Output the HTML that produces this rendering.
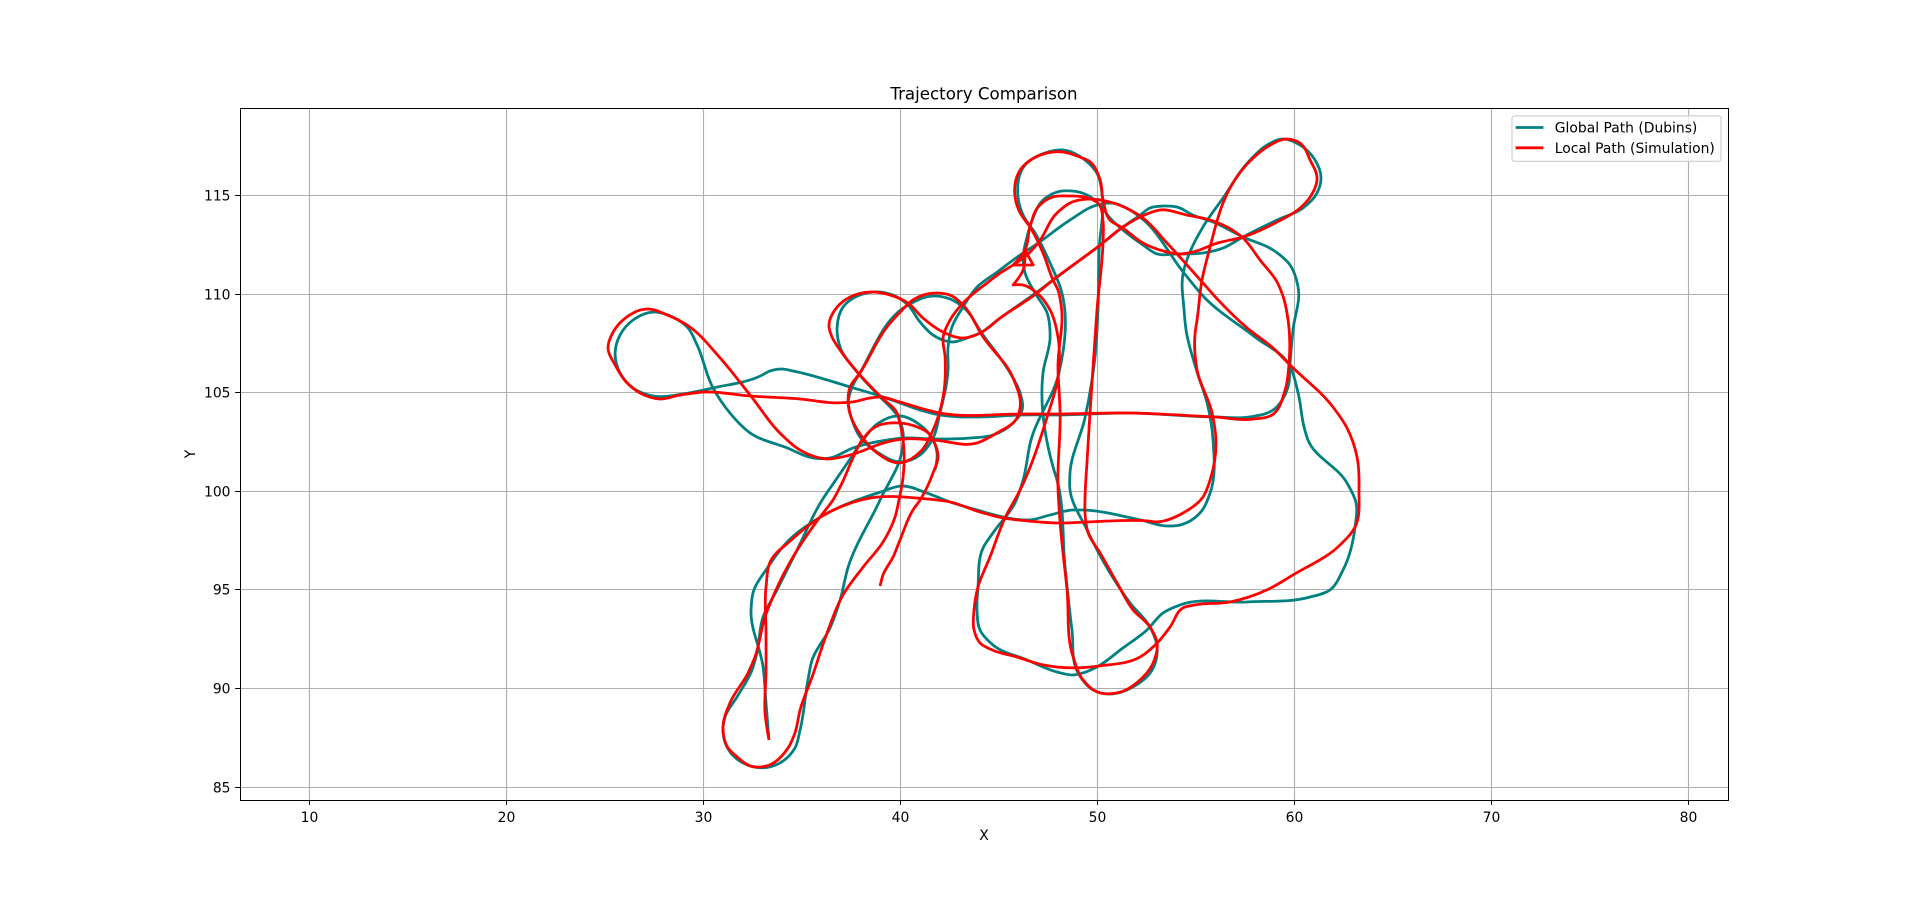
<!DOCTYPE html>
<html lang="en">
<head>
<meta charset="utf-8">
<title>Trajectory Comparison</title>
<style>
html,body{margin:0;padding:0;background:#fff;width:1920px;height:899px;overflow:hidden}
svg{display:block;font-family:"DejaVu Sans","Liberation Sans",sans-serif;fill:#000}
</style>
</head>
<body>
<svg id="chart" xmlns="http://www.w3.org/2000/svg" width="1920" height="899" viewBox="0 0 1920 899">
  <rect x="0" y="0" width="1920" height="899" fill="#fff"/>
  <defs><clipPath id="axes-clip"><rect x="240" y="108" width="1488" height="692"/></clipPath></defs>
  <rect x="240" y="108" width="1488" height="692" fill="#fff"/>
  <g id="grid"></g>
  <g clip-path="url(#axes-clip)">
    <path id="global-path" fill="none" stroke="#008080" stroke-width="2.78" stroke-linejoin="round" stroke-linecap="butt"/>
    <path id="local-path" fill="none" stroke="#ff0000" stroke-width="2.78" stroke-linejoin="round" stroke-linecap="butt"/>
  </g>
  <g id="ticks"></g>
  <rect x="240.5" y="108.5" width="1488" height="692" fill="none" stroke="#000" stroke-width="1"/>
  <text x="984" y="99.6" font-size="16.67" text-anchor="middle">Trajectory Comparison</text>
  <text x="984" y="840" font-size="13.89" text-anchor="middle">X</text>
  <text transform="translate(195,454) rotate(-90)" font-size="13.89" text-anchor="middle">Y</text>
  <g>
    <rect x="1512" y="115.8" width="209" height="45.5" rx="2.8" ry="2.8" fill="#fff" fill-opacity="0.8" stroke="#cccccc" stroke-width="1.11"/>
    <line x1="1515.6" x2="1543.4" y1="127.5" y2="127.5" stroke="#008080" stroke-width="2.78"/>
    <text x="1554.8" y="132.4" font-size="13.89">Global Path (Dubins)</text>
    <line x1="1515.6" x2="1543.4" y1="147.8" y2="147.8" stroke="#ff0000" stroke-width="2.78"/>
    <text x="1554.8" y="152.8" font-size="13.89">Local Path (Simulation)</text>
  </g>
</svg>
<script>
var xTickValues = [10,20,30,40,50,60,70,80];
var yTickValues = [85,90,95,100,105,110,115];

var localX = [38.96,39.11,39.62,39.97,40.63,40.99,41.65,41.90,41.65,41.40,40.84,39.97,38.71,38.05,37.54,37.03,36.57,35.91,34.54,33.63,33.12,32.61,32.26,31.34,30.99,31.24,31.70,32.36,33.22,34.29,34.64,34.90,35.51,36.27,37.08,38.10,39.11,39.72,39.92,40.13,40.13,39.97,39.82,39.06,37.94,36.93,36.52,36.37,36.78,37.44,38.45,39.47,40.38,41.14,42.16,43.17,44.03,45.05,46.93,47.74,50.13,51.29,52.26,53.17,54.54,55.71,56.57,57.38,58.25,59.11,59.47,59.67,59.72,59.52,58.86,57.89,55.86,51.55,48.10,46.07,42.00,40.99,39.97,38.96,38.45,37.59,36.78,34.90,32.36,29.97,28.81,27.79,26.78,26.12,25.51,25.15,25.41,25.91,27.18,28.15,29.16,30.84,32.36,33.98,34.90,36.27,37.44,39.31,40.13,41.65,43.88,44.90,45.91,46.07,45.71,44.19,43.17,42.61,41.85,40.63,40.08,39.31,37.94,37.44,37.39,38.05,38.81,39.97,40.99,41.65,42.16,42.26,42.16,42.51,43.17,44.39,45.05,45.71,46.42,46.98,47.94,48.70,49.47,50.63,51.65,52.31,53.53,55.35,56.12,57.59,58.91,59.77,61.95,62.66,63.17,63.27,63.07,62.31,59.92,58.60,56.72,54.95,54.34,53.68,53.07,52.16,50.13,48.96,47.23,45.91,44.64,44.03,43.73,43.73,43.93,44.54,45.30,46.07,47.44,47.99,47.99,47.59,46.93,46.22,45.71,46.22,46.32,46.73,45.71,46.32,46.57,46.98,47.59,48.60,49.52,50.02,50.28,50.28,49.97,49.77,49.47,49.36,49.36,49.52,50.13,50.99,51.80,52.66,53.02,52.82,52.16,50.99,49.97,49.26,48.76,48.45,48.10,47.99,48.10,47.99,48.15,47.99,47.74,47.23,46.57,46.07,45.81,46.07,47.08,48.25,49.11,49.57,50.13,50.28,50.63,51.29,52.31,53.17,54.19,54.85,56.07,57.38,59.11,60.28,60.79,61.14,60.79,60.28,59.62,58.76,57.89,56.72,56.37,55.71,55.30,55.05,54.95,55.05,55.81,56.01,55.71,55.35,54.34,53.02,52.51,49.62,48.10,46.42,45.20,44.03,42.51,41.34,38.20,36.12,34.34,33.43,33.17,33.17,33.17,33.12,33.32];
var localY = [95.20,95.76,96.67,97.53,99.05,99.56,100.93,101.74,102.60,102.96,103.26,103.46,103.26,102.60,101.59,100.42,99.56,98.70,96.67,94.90,93.63,91.60,90.79,89.27,88.06,86.99,86.54,86.08,86.08,86.99,87.75,88.92,90.59,92.82,94.75,96.16,97.43,98.70,99.56,100.73,102.60,103.46,103.97,104.73,105.89,107.16,107.82,108.33,109.34,109.85,110.10,109.95,109.54,108.78,108.07,107.77,108.02,108.78,110.05,110.71,112.48,113.40,113.95,114.26,114.00,113.75,113.40,112.84,111.72,110.61,109.70,108.68,106.50,105.13,103.87,103.66,103.77,103.97,103.92,103.92,103.97,104.22,104.53,104.78,104.73,104.53,104.48,104.68,104.83,105.03,104.88,104.68,104.98,105.49,106.40,107.26,108.07,108.68,109.24,108.94,108.43,106.76,104.88,102.85,102.09,101.64,101.84,102.50,102.65,102.60,102.45,102.96,103.72,104.27,105.74,107.82,109.44,109.90,110.05,109.70,109.19,108.33,106.00,105.29,104.12,102.75,101.94,101.44,101.99,103.11,104.78,106.81,107.82,108.68,109.54,110.56,111.06,111.47,111.98,112.58,114.11,114.66,114.81,114.66,114.26,113.85,112.58,110.56,109.70,108.28,107.26,106.40,104.27,103.21,101.74,100.07,98.19,97.28,95.76,95.00,94.39,94.24,94.09,93.12,92.36,91.60,91.15,91.05,91.20,91.60,91.96,92.31,92.97,93.99,95.15,96.67,98.65,100.07,103.77,105.79,107.82,109.19,110.05,110.46,110.46,111.22,112.23,111.47,111.47,112.23,113.40,114.41,114.87,114.97,114.87,114.61,113.65,112.74,109.19,106.30,101.59,99.56,98.90,97.89,96.87,95.35,93.99,93.12,92.31,91.30,90.44,89.78,89.83,90.44,91.60,95.00,98.39,100.22,103.97,106.30,109.44,110.20,110.71,112.08,113.40,114.11,114.92,116.28,117.04,117.20,116.94,116.74,115.78,114.76,113.75,113.34,112.58,112.23,112.03,112.13,112.58,112.89,113.65,114.36,114.92,115.88,116.79,117.65,117.86,117.55,116.89,115.37,114.61,112.38,110.71,108.68,108.02,106.15,103.97,102.45,100.57,99.71,98.90,98.45,98.50,98.45,98.39,98.50,98.65,98.95,99.46,99.61,99.61,98.80,97.43,96.52,95.15,92.82,90.79,88.77,87.40];

var globalX = [41.75,41.85,41.60,40.99,39.97,38.81,38.10,37.34,36.57,36.02,34.75,33.73,33.02,32.71,32.46,31.70,31.09,30.99,31.34,32.00,32.97,33.88,34.64,34.90,35.30,35.51,36.42,36.93,37.34,38.96,40.08,40.13,39.87,38.96,37.79,36.93,36.78,37.08,37.94,38.96,39.82,40.38,40.99,41.65,42.66,43.37,44.03,45.05,46.93,47.74,50.13,51.29,52.16,52.66,53.32,54.03,54.85,55.86,57.38,58.91,59.77,60.18,59.92,59.77,59.67,58.91,57.74,55.86,51.55,48.10,46.07,44.19,42.00,40.99,39.97,38.96,37.44,34.54,33.98,33.38,32.87,30.48,28.96,27.44,26.42,25.76,25.51,25.76,26.42,27.44,28.45,29.21,29.67,30.48,31.34,32.36,34.24,35.56,36.42,37.59,39.31,40.13,41.65,43.53,44.69,45.71,46.17,46.07,45.56,44.19,43.17,42.51,41.65,40.38,37.94,37.54,37.34,37.54,37.94,38.81,39.97,40.99,41.60,42.00,42.41,42.41,42.61,43.17,43.88,44.90,46.07,46.98,48.60,49.97,50.79,51.65,52.16,54.39,55.40,57.99,59.67,60.18,60.48,60.68,62.66,63.12,63.07,62.46,61.80,60.79,57.59,54.19,53.32,52.51,51.29,49.97,49.26,48.76,47.94,46.42,44.69,44.03,43.88,43.93,44.19,44.69,45.81,46.22,46.62,48.04,48.15,47.59,46.83,46.22,45.96,46.32,47.34,48.25,49.36,50.02,50.23,50.08,50.02,49.87,49.36,48.60,48.60,49.47,50.63,51.65,52.66,53.02,52.77,51.80,50.79,49.77,49.01,48.70,48.35,47.94,47.74,47.23,47.59,47.44,46.83,46.32,46.22,46.42,46.68,47.23,47.94,48.70,49.47,50.13,50.63,51.29,52.31,53.02,54.03,55.35,56.37,57.38,59.11,60.43,61.14,61.34,61.04,60.28,59.41,58.60,57.74,56.37,55.35,54.69,54.34,54.39,54.49,55.05,55.56,55.86,55.71,55.20,54.19,53.53,52.16,49.26,48.70,47.59,46.57,45.20,43.88,42.51,41.34,40.03,39.01,36.12,34.34,33.27,32.51,32.41,33.02,33.17,33.32];
var globalY = [101.08,101.94,102.70,103.36,103.82,103.41,102.60,101.49,100.37,99.56,97.03,95.00,93.63,91.81,90.94,89.58,88.56,87.75,86.79,86.23,85.98,86.23,86.99,87.90,90.44,91.45,93.07,94.49,96.16,99.56,102.09,102.96,103.77,104.78,106.05,107.31,108.33,109.34,109.95,110.10,109.85,109.44,108.58,107.92,107.57,107.77,108.02,108.78,110.10,110.71,112.48,113.40,114.00,114.36,114.46,114.41,114.00,113.65,112.89,112.23,111.47,110.35,108.18,106.50,105.29,104.12,103.77,103.77,103.97,103.87,103.87,103.77,103.87,104.12,104.48,104.83,105.29,106.10,106.20,106.10,105.84,105.24,104.93,104.83,105.24,106.00,107.01,107.92,108.68,109.09,108.83,108.28,107.42,105.24,103.97,102.96,102.20,101.69,101.69,102.20,102.60,102.70,102.65,102.70,102.85,103.46,104.12,104.98,106.00,107.92,109.34,109.75,109.90,109.44,106.00,105.29,104.48,103.61,102.75,101.99,101.49,101.84,102.60,103.97,106.15,107.31,108.33,109.34,110.35,111.11,111.98,112.58,113.75,114.51,114.61,114.26,113.90,111.06,109.85,107.82,106.50,104.98,103.26,102.60,100.42,99.41,98.19,96.01,95.00,94.64,94.39,94.24,93.83,92.97,92.06,91.10,90.79,90.69,90.84,91.45,92.21,92.97,93.99,95.15,97.13,97.89,99.41,100.57,102.60,106.00,110.20,111.57,113.09,114.00,114.92,116.54,117.15,117.30,116.79,116.03,115.02,112.23,109.19,106.81,103.72,100.93,100.07,98.04,95.86,94.34,93.12,92.11,90.94,90.08,89.73,89.93,90.79,92.97,96.16,100.57,101.23,106.00,107.82,109.04,110.05,111.06,111.82,112.89,113.75,114.76,115.17,115.22,115.02,114.51,113.85,113.24,112.48,112.03,112.03,112.08,112.33,112.89,113.75,114.36,115.12,115.93,116.79,117.55,117.86,117.55,116.79,114.87,113.40,112.13,111.06,109.19,108.18,106.05,104.48,102.60,99.91,98.90,98.29,98.24,98.55,99.05,99.05,98.80,98.55,98.70,99.05,99.46,99.91,100.27,99.97,98.80,97.53,96.16,94.85,93.99,91.10,89.27,87.40];

var xMin = 6.47, xMax = 82.0, yMin = 84.35, yMax = 119.43;
var axLeft = 240, axRight = 1728, axTop = 108, axBottom = 800;
function xScale(v){ return axLeft + (v - xMin) / (xMax - xMin) * (axRight - axLeft); }
function yScale(v){ return axBottom - (v - yMin) / (yMax - yMin) * (axBottom - axTop); }

function buildPath(xs, ys){
  var pts = [];
  for (var i = 0; i < xs.length; i++) pts.push([xScale(xs[i]), yScale(ys[i])]);
  function len(a, b){ return Math.hypot(b[0]-a[0], b[1]-a[1]) || 1e-6; }
  var tan = pts.map(function(p, i){
    if (i === 0 || i === pts.length - 1) return null;
    var a = pts[i-1], b = pts[i+1];
    var la = len(a, p), lb = len(p, b);
    var ux = (p[0]-a[0])/la, uy = (p[1]-a[1])/la;
    var vx = (b[0]-p[0])/lb, vy = (b[1]-p[1])/lb;
    if (ux*vx + uy*vy < 0.2) return null;
    var tx = ux*lb + vx*la, ty = uy*lb + vy*la;
    var l = Math.hypot(tx, ty) || 1e-6;
    return [tx/l, ty/l];
  });
  var d = 'M' + pts[0][0].toFixed(2) + ' ' + pts[0][1].toFixed(2);
  for (var j = 0; j < pts.length - 1; j++){
    var p0 = pts[j], p1 = pts[j+1], s = len(p0, p1) / 3;
    var c1 = tan[j] ? [p0[0]+tan[j][0]*s, p0[1]+tan[j][1]*s] : p0;
    var c2 = tan[j+1] ? [p1[0]-tan[j+1][0]*s, p1[1]-tan[j+1][1]*s] : p1;
    d += 'C' + c1[0].toFixed(2) + ' ' + c1[1].toFixed(2) + ' ' + c2[0].toFixed(2) + ' ' + c2[1].toFixed(2) + ' ' + p1[0].toFixed(2) + ' ' + p1[1].toFixed(2);
  }
  return d;
}
document.getElementById('global-path').setAttribute('d', buildPath(globalX, globalY));
document.getElementById('local-path').setAttribute('d', buildPath(localX, localY));

var NS = 'http://www.w3.org/2000/svg';
var gridG = document.getElementById('grid');
var tickG = document.getElementById('ticks');
function mk(tag, attrs, parent){
  var e = document.createElementNS(NS, tag);
  for (var k in attrs) e.setAttribute(k, attrs[k]);
  parent.appendChild(e);
  return e;
}
xTickValues.forEach(function(v){
  var px = Math.round(xScale(v) - 0.5) + 0.5;
  var g = mk('line', {x1:px, x2:px, y1:axTop, y2:axBottom, stroke:'#b0b0b0', 'stroke-width':1.11}, gridG);
  
  
  var t = mk('line', {x1:px, x2:px, y1:axBottom, y2:axBottom + 4.86, stroke:'#000', 'stroke-width':1}, tickG);
  
  
  var l = mk('text', {x:px, y:822, 'font-size':13.89, 'text-anchor':'middle'}, tickG);
  
  
  l.textContent = v;
});
yTickValues.forEach(function(v){
  var py = Math.round(yScale(v) - 0.5) + 0.5;
  var g = mk('line', {x1:axLeft, x2:axRight, y1:py, y2:py, stroke:'#b0b0b0', 'stroke-width':1.11}, gridG);
  
  
  var t = mk('line', {x1:axLeft - 4.86, x2:axLeft, y1:py, y2:py, stroke:'#000', 'stroke-width':1}, tickG);
  
  
  var l = mk('text', {x:230.5, y:py + 5, 'font-size':13.89, 'text-anchor':'end'}, tickG);
  
  
  l.textContent = v;
});
</script>
</body>
</html>
